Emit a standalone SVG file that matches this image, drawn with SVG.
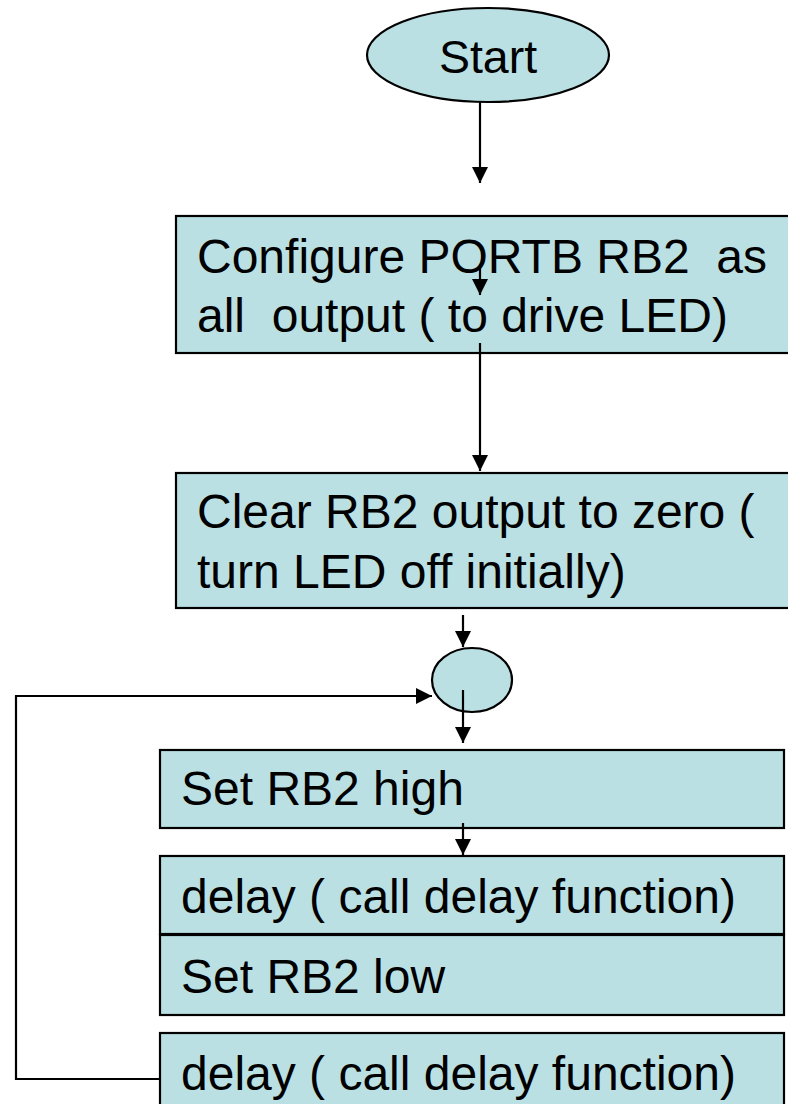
<svg xmlns="http://www.w3.org/2000/svg" width="788" height="1104" viewBox="0 0 788 1104">
  <style>
    .box { fill: #BAE0E3; stroke: #000; stroke-width: 2.2; }
    .lbl { font-family: "Liberation Sans", Arial, sans-serif; font-size: 48px; fill: #000; white-space: pre; }
    .wire { fill: none; stroke: #000; stroke-width: 2.2; }
  </style>
  <defs>
    <marker id="head" markerUnits="userSpaceOnUse" markerWidth="17" markerHeight="17" refX="16" refY="8" orient="auto">
      <path d="M0,0 L16,8 L0,16 Z" fill="#000"/>
    </marker>
  </defs>

  <rect width="788" height="1104" fill="#fff"/>

  <g id="start">
    <ellipse class="box" cx="488" cy="55" rx="121" ry="47"/>
    <text class="lbl" x="488" y="73" text-anchor="middle" style="font-size:46.5px">Start</text>
  </g>

  <g id="configure">
    <rect class="box" x="176" y="216" width="620" height="137"/>
    <text class="lbl" x="197" y="273" xml:space="preserve">Configure PORTB RB2  as</text>
    <text class="lbl" x="197" y="332" xml:space="preserve">all  output ( to drive LED)</text>
  </g>

  <g id="clear">
    <rect class="box" x="176" y="473" width="620" height="135"/>
    <text class="lbl" x="197" y="528">Clear RB2 output to zero (</text>
    <text class="lbl" x="197" y="588">turn LED off initially)</text>
  </g>

  <g id="junction">
    <ellipse class="box" cx="472" cy="680" rx="40" ry="32"/>
  </g>

  <g id="set-high">
    <rect class="box" x="160" y="750" width="624" height="78"/>
    <text class="lbl" x="181" y="805">Set RB2 high</text>
  </g>

  <g id="delay-1">
    <rect class="box" x="160" y="856" width="624" height="78"/>
    <text class="lbl" x="181" y="913">delay ( call delay function)</text>
  </g>

  <g id="set-low">
    <rect class="box" x="160" y="935" width="624" height="80"/>
    <text class="lbl" x="181" y="993">Set RB2 low</text>
  </g>

  <g id="delay-2">
    <rect class="box" x="160" y="1033" width="624" height="80"/>
    <text class="lbl" x="181" y="1090">delay ( call delay function)</text>
  </g>

  <g id="connectors">
    <line class="wire" x1="480" y1="102" x2="480" y2="183" marker-end="url(#head)"/>
    <line class="wire" x1="480" y1="268" x2="480" y2="295" marker-end="url(#head)"/>
    <line class="wire" x1="480" y1="343" x2="480" y2="471" marker-end="url(#head)"/>
    <line class="wire" x1="463" y1="615" x2="463" y2="647" marker-end="url(#head)"/>
    <line class="wire" x1="463" y1="690" x2="463" y2="743" marker-end="url(#head)"/>
    <line class="wire" x1="463" y1="823" x2="463" y2="855" marker-end="url(#head)"/>
    <polyline class="wire" points="160,1079 16,1079 16,696 432,696" marker-end="url(#head)"/>
  </g>
</svg>
